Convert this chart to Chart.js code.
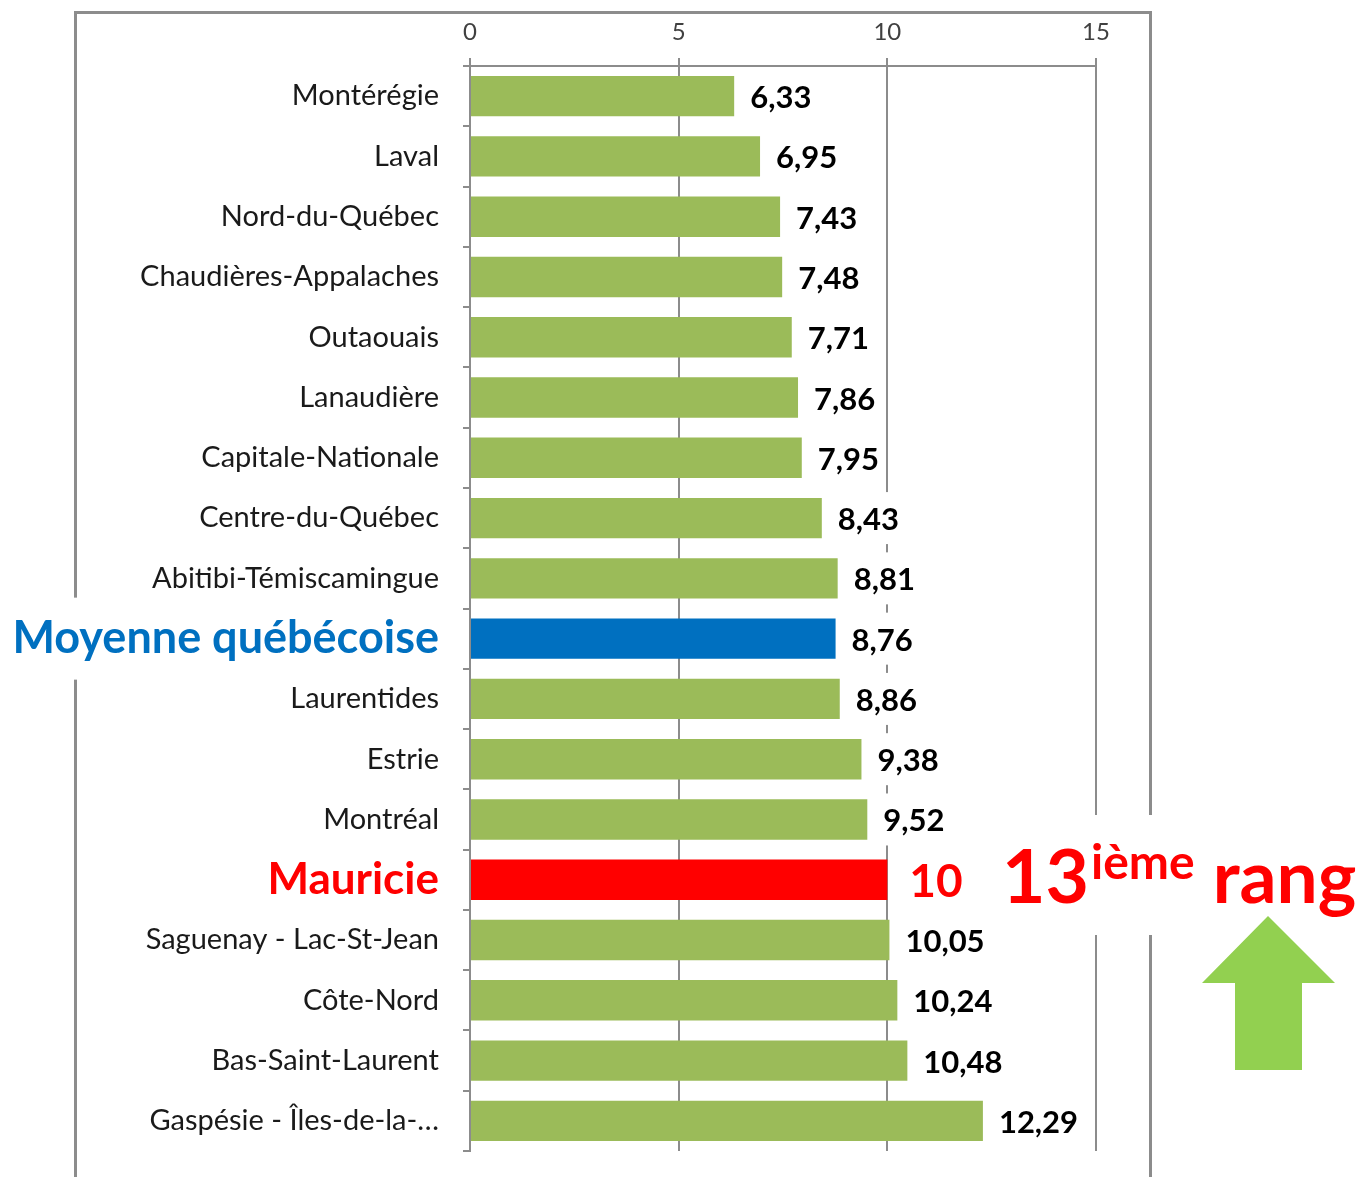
<!DOCTYPE html>
<html>
<head>
<meta charset="utf-8">
<script src="https://cdn.jsdelivr.net/npm/chart.js@4"></script>
<style>
  body { margin: 0; background: #fff; }
</style>
</head>
<body>
<canvas id="myChart" width="1363" height="1177"></canvas>
<script>
// regions, sorted by value
const regions = [
  'Montérégie', 'Laval', 'Nord-du-Québec', 'Chaudières-Appalaches', 'Outaouais',
  'Lanaudière', 'Capitale-Nationale', 'Centre-du-Québec', 'Abitibi-Témiscamingue',
  'Moyenne québécoise', 'Laurentides', 'Estrie', 'Montréal', 'Mauricie',
  'Saguenay - Lac-St-Jean', 'Côte-Nord', 'Bas-Saint-Laurent', 'Gaspésie - Îles-de-la-…'
]
const values = [
  6.33, 6.95, 7.43, 7.48, 7.71,
  7.86, 7.95, 8.43, 8.81,
  8.76, 8.86, 9.38, 9.52, 10,
  10.05, 10.24, 10.48, 12.29
]
const xTicks = [0, 5, 10, 15]
const avgName = 'Moyenne québécoise'
const homeName = 'Mauricie'
const rankNum = '13'
const rankSup = 'ième'
const rankWord = 'rang'

const FONT = 'Lato, "Open Sans", sans-serif'
const GREEN = '#9BBB59'
const BLUE = '#0070C0'
const RED = '#FF0000'
const GRID = '#8c8c8c'

function barColor(i){
  if(regions[i] === avgName) return BLUE
  if(regions[i] === homeName) return RED
  return GREEN
}
function fmt(v){
  return String(v).replace('.', ',')
}

const decor = {
  id: 'decor',
  beforeDraw(chart){
    const c = chart.ctx
    c.save()
    c.strokeStyle = GRID
    c.lineWidth = 3
    c.beginPath()
    c.moveTo(75.5, 1177)
    c.lineTo(75.5, 12.5)
    c.lineTo(1150.5, 12.5)
    c.lineTo(1150.5, 1177)
    c.stroke()
    c.restore()
  },
  afterDatasetsDraw(chart){
    const c = chart.ctx
    const bars = chart.getDatasetMeta(0).data
    c.save()
    c.textBaseline = 'middle'
    bars.forEach((b, i) => {
      const home = regions[i] === homeName
      c.font = (home ? 'bold 46px ' : 'bold 31px ') + FONT
      const txt = fmt(values[i])
      const x = b.x + (home ? 22 : 16)
      const w = c.measureText(txt).width
      // white box behind the value, hides the gridline
      c.fillStyle = '#fff'
      c.fillRect(x - 5, b.y - 26, w + 10, 52)
      c.fillStyle = home ? RED : '#000'
      c.fillText(txt, x, b.y + 2)
    })
    c.restore()
  },
  afterDraw(chart){
    const c = chart.ctx
    c.save()
    // rank callout
    c.fillStyle = '#fff'
    c.fillRect(1000, 815, 363, 120)
    c.fillStyle = RED
    c.textBaseline = 'alphabetic'
    c.font = 'bold 75px ' + FONT
    let x = 1002
    c.fillText(rankNum, x, 903)
    x += c.measureText(rankNum).width + 2
    c.font = 'bold 48px ' + FONT
    c.fillText(rankSup, x, 879)
    x += c.measureText(rankSup).width + 18
    c.font = 'bold 73px ' + FONT
    c.fillText(rankWord, x, 903)
    // up arrow
    c.fillStyle = '#92D050'
    c.beginPath()
    c.moveTo(1268, 916)
    c.lineTo(1335, 983)
    c.lineTo(1302, 983)
    c.lineTo(1302, 1070)
    c.lineTo(1235, 1070)
    c.lineTo(1235, 983)
    c.lineTo(1202, 983)
    c.closePath()
    c.fill()
    c.restore()
  }
}

const ctx = document.getElementById('myChart')
new Chart(ctx, {
  type: 'bar',
  data: {
    labels: regions,
    datasets: [{
      data: values,
      backgroundColor: regions.map((r, i) => barColor(i)),
      barPercentage: 0.67,
      categoryPercentage: 1
    }]
  },
  options: {
    indexAxis: 'y',
    responsive: false,
    animation: false,
    layout: { padding: { top: 0, right: 267, bottom: 26, left: 0 } },
    plugins: { legend: { display: false }, tooltip: { enabled: false } },
    scales: {
      x: {
        position: 'top',
        min: xTicks[0],
        max: xTicks[xTicks.length - 1],
        afterBuildTicks: s => { s.ticks = xTicks.map(v => ({ value: v })) },
        afterFit: s => { s.height = 66 },
        ticks: { color: '#404040', font: { family: FONT, size: 24 }, padding: 11 },
        grid: { color: GRID, lineWidth: 2, tickLength: 8 },
        border: { color: GRID, width: 2 }
      },
      y: {
        afterFit: s => {
          s.width = 470
          s.paddingTop = 0
          s.paddingBottom = 0
        },
        ticks: {
          padding: 24,
          color: c => regions[c.index] === avgName ? BLUE : regions[c.index] === homeName ? RED : '#1a1a1a',
          font: c => regions[c.index] === avgName
            ? { family: FONT, size: 45, weight: 'bold' }
            : regions[c.index] === homeName
              ? { family: FONT, size: 44, weight: 'bold' }
              : { family: FONT, size: 29 },
          showLabelBackdrop: c => regions[c.index] === avgName,
          backdropColor: '#fff',
          backdropPadding: { top: 14, bottom: 14, left: 6, right: 6 }
        },
        grid: { offset: true, drawOnChartArea: false, tickLength: 7, color: GRID, lineWidth: 2 },
        border: { color: GRID, width: 2 }
      }
    }
  },
  plugins: [decor]
})
</script>
</body>
</html>
